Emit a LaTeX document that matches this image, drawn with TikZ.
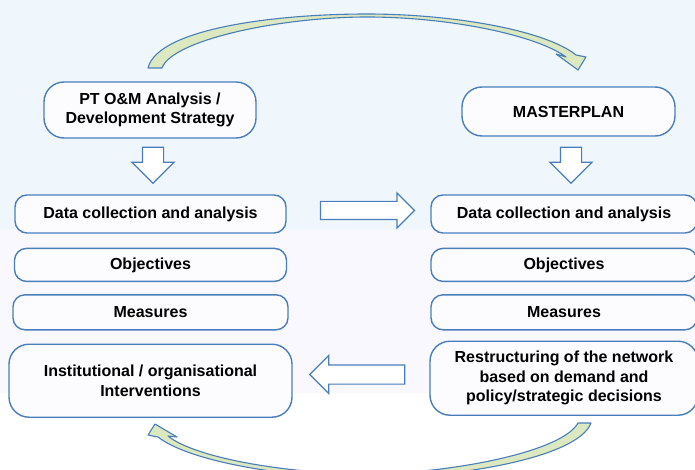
\documentclass[tikz,border=0pt]{standalone}
\usepackage{fontspec}
\setmainfont{Liberation Sans}
\usepackage{tikz}
\usetikzlibrary{arrows.meta,positioning,shapes.arrows}
\tikzset{>=Stealth}
\definecolor{bgtop}{RGB}{239,247,253}
\definecolor{bgmid}{RGB}{248,248,254}
\definecolor{frameblue}{RGB}{74,126,187}
\definecolor{boxfill}{RGB}{252,252,255}
\definecolor{leafgreen}{RGB}{220,232,192}

\begin{document}
\begin{tikzpicture}[x=1pt, y=-1pt,
    box/.style={rectangle, draw=frameblue, line width=1.4pt, rounded corners=12pt,
        fill=boxfill, align=center, inner sep=2pt,
        font=\fontsize{16}{19.5}\selectfont\bfseries},
    bigbox/.style={box, rounded corners=20pt},
    blockarrow/.style={single arrow, draw=frameblue, line width=1.2pt, fill=white,
        inner xsep=0pt, single arrow head indent=0pt},
    bendarrow/.style={draw=frameblue, line width=1.1pt, fill=leafgreen, line join=round}
]
    \clip (0,0) rectangle (695,470);
    \fill[bgtop] (0,0) rectangle (695,230);
    \fill[bgmid] (0,230) rectangle (695,393);

    % top row
    \node[bigbox, minimum width=212, minimum height=56] (ptom) at (150,110)
        {PT O\&M Analysis  /\\Development Strategy};
    \node[bigbox, minimum width=213, minimum height=49] (master) at (568.5,111.5)
        {MASTERPLAN};

    % left column
    \node[box, minimum width=271, minimum height=38] (dataL) at (150.5,214)
        {Data collection and analysis};
    \node[box, minimum width=272, minimum height=33, below=14pt of dataL] (objL) {Objectives};
    \node[box, minimum width=275, minimum height=35, below=12pt of objL] (measL) {Measures};
    \node[bigbox, minimum width=283, minimum height=73, below=13pt of measL] (instL)
        {Institutional / organisational\\Interventions};

    % right column
    \node[box, minimum width=266, minimum height=38] (dataR) at (564,214)
        {Data collection and analysis};
    \node[box, minimum width=266, minimum height=33, below=14pt of dataR] (objR) {Objectives};
    \node[box, minimum width=266, minimum height=35, below=12pt of objR] (measR) {Measures};
    \node[bigbox, minimum width=268, minimum height=74, below=10pt of measR] (instR)
        {Restructuring of the network\\based on demand and\\policy/strategic decisions};

    % block arrows
    \node[blockarrow, rotate=-90, inner ysep=10pt, minimum height=36,
        single arrow head extend=10.5pt] (downL) at (153,160) {};
    \node[blockarrow, rotate=-90, inner ysep=10pt, minimum height=36,
        single arrow head extend=10.5pt] (downR) at (571,160) {};
    \node[blockarrow, inner ysep=8.5pt, minimum height=94,
        single arrow head extend=8.5pt] (toRight) at (363,210.5) {};
    \node[blockarrow, rotate=180, inner ysep=9pt, minimum height=95,
        single arrow head extend=9.5pt] (toLeft) at (362,374.5) {};

    % curved arrows
    \path[bendarrow] (148,68) -- (162,68) .. controls (172,40) and (280,17) .. (367,17)
        .. controls (452,17) and (538,36) .. (566,57) -- (556,54) -- (578,70) -- (586,57)
        -- (576,55) .. controls (545,30) and (452,14) .. (367,14)
        .. controls (278,14) and (158,28) .. (148,68) -- cycle;
    \path[bendarrow] (591,423) -- (578,423) .. controls (562,452) and (452,473) .. (370,474)
        .. controls (288,474) and (195,458) .. (168,436) -- (177,437) -- (155,424) -- (148,435)
        -- (158,437) .. controls (190,462) and (288,478) .. (370,478)
        .. controls (456,478) and (578,458) .. (591,423) -- cycle;
\end{tikzpicture}
\end{document}
